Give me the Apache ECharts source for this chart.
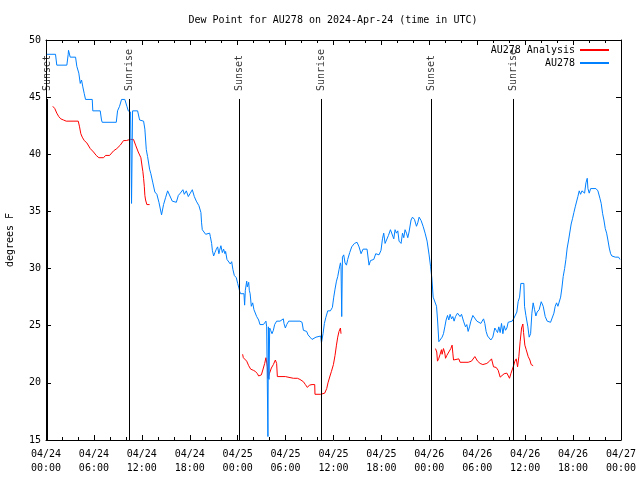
<!DOCTYPE html>
<html>
<head>
<meta charset="utf-8">
<script src="https://cdn.jsdelivr.net/npm/echarts@6/dist/echarts.min.js"></script>
<style>
html,body{margin:0;padding:0;background:#fff;}
#chart{width:640px;height:480px;}
</style>
</head>
<body>
<div id="chart"></div>
<script>
// Hours since 2024-04-24 00:00 UTC
const xTickLabels = ['04/24\n00:00','04/24\n06:00','04/24\n12:00','04/24\n18:00',
  '04/25\n00:00','04/25\n06:00','04/25\n12:00','04/25\n18:00',
  '04/26\n00:00','04/26\n06:00','04/26\n12:00','04/26\n18:00','04/27\n00:00'];
const titleText = 'Dew Point for AU278 on 2024-Apr-24 (time in UTC)';

const eventNames = ['Sunset','Sunrise','Sunset','Sunrise','Sunset','Sunrise'];
const eventHours = [0.12, 10.46, 24.16, 34.44, 48.22, 58.50];

// AU278 observations [hour, dew point F]
const au278 = [
[0.10,48.75],[1.19,48.75],[1.35,47.8],[2.61,47.8],[2.78,48.75],[2.82,49.1],[3.03,48.5],[3.70,48.5],
[3.86,47.7],[4.11,47.1],[4.29,46.2],[4.45,46.5],[4.61,45.9],[4.79,45.3],[4.95,44.8],[5.79,44.8],
[5.86,43.8],[6.79,43.8],[6.95,43.0],[7.04,42.8],[8.80,42.8],[8.96,43.8],[9.21,44.2],[9.46,44.8],
[9.87,44.8],[10.13,44.2],[10.30,43.8],[10.59,43.7],[10.71,35.7],[10.84,43.8],[11.47,43.8],
[11.72,43.0],[12.22,42.9],[12.38,42.2],[12.56,40.4],[12.72,39.8],[12.97,38.7],[13.13,38.3],
[13.38,37.5],[13.63,36.7],[13.88,36.5],[14.14,35.8],[14.47,34.7],[14.72,35.6],[14.97,36.2],
[15.23,36.8],[15.48,36.8],[15.81,35.9],[16.32,35.8],[16.57,36.4],[16.82,36.6],[17.14,36.9],
[17.32,36.5],[17.57,36.8],[17.82,36.3],[18.07,36.6],[18.32,36.9],[18.57,36.3],[18.82,35.9],
[19.15,35.5],[19.40,34.9],[19.48,34.0],[19.57,33.4],[19.74,33.3],[19.99,33.0],[20.24,33.1],
[20.49,33.1],[20.58,32.8],[20.74,32.2],[20.83,31.6],[20.99,31.1],[21.15,31.4],[21.33,31.7],
[21.49,31.9],[21.65,31.3],[21.74,31.6],[21.90,32.0],[22.08,31.4],[22.24,31.7],[22.41,31.3],
[22.49,31.5],[22.66,30.8],[22.83,30.7],[23.08,30.4],[23.25,30.6],[23.41,29.9],[23.58,29.4],
[23.83,29.2],[24.00,28.7],[24.16,28.3],[24.25,28.0],[24.37,27.8],[24.79,27.8],[24.87,26.8],
[24.96,28.1],[25.13,28.9],[25.21,28.4],[25.38,28.8],[25.46,28.1],[25.56,27.8],[25.71,26.7],
[25.88,27.0],[26.04,26.4],[26.19,26.5],[26.38,25.8],[26.63,25.5],[26.79,25.1],[27.04,25.0],
[27.22,25.1],[27.38,25.2],[27.54,25.4],[27.63,24.9],[27.79,15.3],[27.85,24.9],[27.92,20.3],
[28.01,24.8],[28.13,24.6],[28.30,24.3],[28.47,24.6],[28.63,25.1],[28.88,25.4],[29.30,25.4],
[29.72,25.6],[29.80,25.2],[29.97,24.8],[30.14,25.1],[30.39,25.4],[31.80,25.4],[32.06,25.3],
[32.23,24.6],[32.39,24.6],[32.64,24.5],[32.81,24.2],[33.06,24.0],[33.31,23.8],[33.56,23.75],
[33.81,24.0],[34.06,24.1],[34.40,24.1],[34.49,23.5],[34.69,24.3],[34.86,25.2],[35.03,25.7],
[35.28,26.3],[35.61,26.3],[35.86,26.6],[36.03,27.5],[36.19,28.2],[36.37,28.9],[36.53,29.3],
[36.69,29.9],[36.87,30.5],[36.94,30.2],[37.03,25.8],[37.12,31.0],[37.28,31.2],[37.44,30.5],
[37.62,30.3],[37.78,30.8],[38.03,31.4],[38.28,31.9],[38.62,32.2],[38.95,32.3],[39.20,31.9],
[39.45,31.3],[39.70,31.7],[40.20,31.7],[40.45,30.3],[40.63,30.7],[40.88,30.7],[41.04,30.8],
[41.29,31.3],[41.70,31.2],[41.95,31.6],[42.13,32.6],[42.29,33.1],[42.46,32.2],[42.63,32.2],
[42.88,32.9],[43.13,33.4],[43.38,33.5],[43.55,32.6],[43.71,33.4],[43.88,33.1],[44.05,33.3],
[44.21,32.4],[44.46,32.2],[44.64,33.1],[44.80,32.7],[44.96,33.4],[45.14,33.1],[45.30,32.7],
[45.46,33.2],[45.71,34.25],[45.89,34.5],[46.14,34.3],[46.39,33.7],[46.55,34.0],[46.72,34.5],
[46.97,34.2],[47.22,33.7],[47.47,33.1],[47.72,32.4],[47.97,31.2],[48.15,30.2],[48.31,29.2],
[48.48,27.5],[48.73,27.4],[48.90,26.7],[49.03,25.5],[49.19,23.6],[49.44,23.6],[49.60,24.0],
[49.77,24.3],[49.94,24.9],[50.10,25.5],[50.28,25.9],[50.44,25.5],[50.60,26.0],[50.78,25.6],
[50.94,25.8],[51.10,25.4],[51.28,25.8],[51.53,26.1],[51.69,26.2],[51.85,25.8],[52.03,26.0],
[52.28,25.4],[52.53,24.9],[52.69,25.1],[52.86,24.5],[53.03,24.9],[53.20,25.4],[53.45,25.9],
[53.70,25.9],[53.95,25.4],[54.20,25.4],[54.45,25.2],[54.61,25.4],[54.79,25.6],[54.95,25.2],
[55.11,24.5],[55.29,24.1],[55.54,24.0],[55.70,23.75],[55.95,24.0],[56.20,24.8],[56.37,24.6],
[56.54,24.4],[56.70,24.9],[56.87,24.4],[57.04,25.2],[57.21,24.3],[57.37,25.0],[57.54,24.6],
[57.71,24.8],[57.87,25.3],[58.12,25.2],[58.37,25.4],[58.55,25.6],[58.71,25.5],[58.96,26.2],
[59.12,27.1],[59.30,27.5],[59.46,28.7],[59.67,28.6],[59.84,28.7],[59.92,26.7],[60.09,25.9],
[60.34,24.9],[60.50,24.0],[60.68,24.3],[60.84,26.1],[61.00,27.0],[61.18,26.4],[61.34,25.85],
[61.50,26.2],[61.75,26.4],[62.01,27.1],[62.26,26.7],[62.51,25.8],[62.76,25.4],[63.01,25.55],
[63.18,25.3],[63.43,25.4],[63.60,26.1],[63.76,26.7],[63.93,27.0],[64.10,26.7],[64.26,26.8],
[64.44,27.5],[64.60,28.3],[64.76,29.3],[64.94,30.0],[65.10,30.8],[65.26,31.8],[65.44,32.5],
[65.60,33.2],[65.76,33.9],[65.94,34.4],[66.10,34.9],[66.27,35.4],[66.44,35.4],[66.60,36.3],
[66.77,36.8],[66.94,36.5],[67.11,36.8],[67.27,36.9],[67.44,36.6],[67.61,37.5],[67.77,37.9],
[67.86,37.0],[68.02,36.6],[68.20,37.0],[68.86,37.0],[69.11,36.8],[69.36,36.15],[69.52,35.7],
[69.70,34.8],[69.86,34.25],[70.03,33.5],[70.20,33.1],[70.36,32.5],[70.53,31.8],[70.70,31.3],
[70.86,31.1],[71.03,31.0],[71.28,31.0],[71.53,31.1],[71.70,31.0],[71.87,30.8]
];

// AU278 Analysis, three separate runs
const analysis1 = [
[0.85,44.2],[1.10,44.0],[1.35,43.6],[1.60,43.3],[1.85,43.1],[2.19,43.0],[2.53,42.9],[4.04,42.9],
[4.20,42.4],[4.36,41.8],[4.54,41.5],[4.79,41.2],[5.11,41.0],[5.54,40.5],[5.95,40.2],[6.29,39.9],
[6.62,39.7],[6.87,39.7],[7.21,39.7],[7.46,39.9],[7.96,39.9],[8.46,40.3],[8.87,40.5],[9.30,40.8],
[9.71,41.2],[10.05,41.2],[10.55,41.3],[10.96,41.3],[11.22,40.8],[11.55,40.2],[11.88,39.7],
[12.06,38.8],[12.13,38.5],[12.22,37.9],[12.31,37.2],[12.38,36.4],[12.47,36.0],[12.63,35.6],[12.97,35.6]
];
const analysis2 = [
[24.62,22.5],[24.71,22.2],[24.87,22.1],[25.13,21.9],[25.38,21.5],[25.63,21.2],[25.96,21.1],
[26.22,21.0],[26.47,20.8],[26.63,20.6],[26.79,20.5],[26.97,20.7],[27.22,21.3],[27.38,21.7],
[27.54,22.2],[27.63,22.3],[27.72,21.4],[27.79,20.4],[27.97,20.8],[28.22,21.3],[28.47,21.6],
[28.72,22.0],[28.88,21.7],[28.97,20.55],[29.97,20.55],[30.30,20.5],[30.98,20.4],[31.48,20.4],
[31.80,20.3],[31.98,20.25],[32.23,20.1],[32.48,19.85],[32.73,19.6],[32.98,19.8],[33.31,19.85],
[33.65,19.85],[33.68,19.0],[34.40,19.0],[34.90,19.1],[35.15,19.5],[35.31,20.0],[35.56,20.6],
[35.74,21.0],[35.99,21.6],[36.19,22.4],[36.37,23.3],[36.53,24.0],[36.69,24.5],[36.87,24.8],[36.94,24.3]
];
const analysis3 = [
[48.77,23.0],[48.93,22.7],[49.02,21.9],[49.19,22.15],[49.35,22.5],[49.52,22.9],[49.60,22.5],
[49.77,23.0],[49.94,22.6],[50.03,22.15],[50.19,22.4],[50.44,22.7],[50.69,23.0],[50.85,23.3],
[50.94,22.6],[51.03,22.0],[51.28,22.0],[51.69,22.1],[51.85,21.8],[52.86,21.8],[53.03,21.65],
[53.28,21.9],[53.70,22.3],[53.86,22.45],[54.04,21.9],[54.36,21.7],[54.70,21.6],[54.95,21.55],
[55.20,21.7],[55.54,21.9],[55.79,22.1],[55.95,22.0],[56.04,21.4],[56.37,21.35],[56.62,21.1],
[56.87,20.5],[57.04,20.6],[57.37,20.8],[57.71,20.85],[57.87,20.7],[58.04,20.4],[58.21,20.8],
[58.37,20.7],[58.55,21.5],[58.71,21.9],[58.88,22.1],[59.05,21.4],[59.21,22.3],[59.37,23.6],
[59.55,24.8],[59.71,25.15],[59.80,24.4],[59.96,23.3],[60.13,22.9],[60.38,22.3],[60.59,22.0],
[60.75,21.6],[60.84,21.5],[61.00,21.5]
];

const FONT = 'DejaVu Sans Mono';
const RED = '#ff0000';
const BLUE = '#0080ff';
const Y_MIN = 15, Y_MAX = 50;
const LINE_TOP = 44.84;   // where the sun event lines begin (data units)
const LABEL_BASE = 45.45; // where the rotated event labels start

const chart = echarts.init(document.getElementById('chart'), null, {renderer: 'canvas'});

function analysisSeries(data) {
  return {
    name: 'AU278 Analysis', type: 'line', data: data, symbol: 'none', showSymbol: false,
    lineStyle: {color: RED, width: 1}, itemStyle: {color: RED}, animation: false, z: 2
  };
}

const xCommon = {
  type: 'value', min: 0, max: 72, interval: 6,
  axisLine: {show: true, onZero: false, lineStyle: {color: '#000', width: 1}},
  axisTick: {show: true, inside: true, length: 5, lineStyle: {color: '#000'}},
  minorTick: {show: true, splitNumber: 3, length: 3, lineStyle: {color: '#000'}},
  splitLine: {show: false}, minorSplitLine: {show: false}
};
const yCommon = {
  type: 'value', min: Y_MIN, max: Y_MAX, interval: 5,
  axisLine: {show: true, onZero: false, lineStyle: {color: '#000', width: 1}},
  axisTick: {show: true, inside: true, length: 5, lineStyle: {color: '#000'}},
  splitLine: {show: false}
};

const option = {
  backgroundColor: '#fff',
  animation: false,
  textStyle: {fontFamily: FONT},
  title: {
    text: titleText, left: 333, top: 15, padding: 0, textAlign: 'center',
    textStyle: {fontFamily: FONT, fontSize: 10, fontWeight: 'normal', color: '#000'}
  },
  legend: {
    data: ['AU278 Analysis', 'AU278'],
    orient: 'vertical', right: 30, top: 45, padding: 0, align: 'right',
    itemWidth: 29, itemHeight: 8, itemGap: 3,
    itemStyle: {opacity: 0},
    textStyle: {fontFamily: FONT, fontSize: 10, color: '#000'},
    selectedMode: false
  },
  grid: {left: 46, right: 19, top: 40, bottom: 40, containLabel: false, outerBoundsMode: 'none'},
  xAxis: [
    Object.assign({}, xCommon, {
      position: 'bottom',
      axisLabel: {
        show: true, color: '#000', fontFamily: FONT, fontSize: 10, margin: 7, lineHeight: 14,
        formatter: function (v) { return xTickLabels[Math.round(v / 6)] || ''; }
      }
    }),
    Object.assign({}, xCommon, {position: 'top', axisLabel: {show: false}})
  ],
  yAxis: [
    Object.assign({}, yCommon, {
      position: 'left',
      name: 'degrees F', nameLocation: 'middle', nameGap: 31, nameRotate: 90,
      nameTextStyle: {fontFamily: FONT, fontSize: 10, color: '#000'},
      axisLabel: {show: true, color: '#000', fontFamily: FONT, fontSize: 10, margin: 5}
    }),
    Object.assign({}, yCommon, {position: 'right', axisLabel: {show: false}})
  ],
  series: [
    analysisSeries(analysis1),
    analysisSeries(analysis2),
    analysisSeries(analysis3),
    {
      name: 'AU278', type: 'line', data: au278, symbol: 'none', showSymbol: false,
      lineStyle: {color: BLUE, width: 1}, itemStyle: {color: BLUE}, animation: false, z: 3
    },
    {
      name: 'events', type: 'scatter', symbolSize: 0, silent: true, z: 4,
      data: eventHours.map((h, i) => ({value: [h, LABEL_BASE], name: eventNames[i]})),
      label: {
        show: true, formatter: '{b}', rotate: 90, position: 'inside',
        align: 'left', verticalAlign: 'middle', offset: [1, 0],
        fontFamily: FONT, fontSize: 10, color: '#000'
      },
      markLine: {
        silent: true, symbol: ['none', 'none'], animation: false,
        label: {show: false},
        lineStyle: {color: '#000', width: 1, type: 'solid'},
        data: eventHours.map(h => [{coord: [h, LINE_TOP]}, {coord: [h, Y_MIN]}])
      }
    }
  ]
};
chart.setOption(option);
</script>
</body>
</html>
